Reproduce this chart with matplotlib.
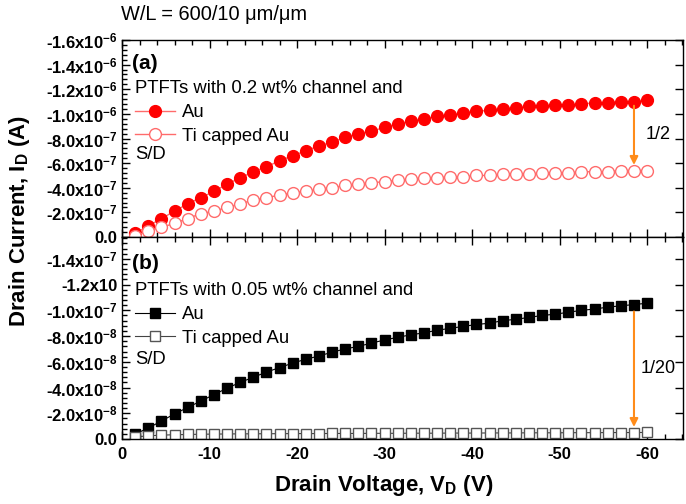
import numpy as np
import matplotlib
matplotlib.use("Agg")
import matplotlib.pyplot as plt
from matplotlib.ticker import AutoMinorLocator

plt.rcParams['font.family'] = ['Liberation Sans', 'DejaVu Sans']
plt.rcParams['mathtext.fontset'] = 'custom'
plt.rcParams['mathtext.rm'] = 'Liberation Sans'
plt.rcParams['mathtext.it'] = 'Liberation Sans:italic'
plt.rcParams['mathtext.bf'] = 'Liberation Sans:bold'

# drain voltage (V), 1.5 V steps
vd = [-1.5 * (i + 1) for i in range(40)]

# panel (a): 0.2 wt% channel, drain current in units of 1e-6 A
a_au = [0.03, 0.09, 0.15, 0.21, 0.27, 0.32, 0.37, 0.43, 0.48, 0.53,
        0.57, 0.62, 0.66, 0.70, 0.74, 0.77, 0.81, 0.84, 0.86, 0.89,
        0.92, 0.94, 0.96, 0.98, 0.99, 1.01, 1.02, 1.03, 1.04, 1.05,
        1.06, 1.06, 1.07, 1.07, 1.08, 1.09, 1.09, 1.10, 1.10, 1.11]
a_ti = [0.01, 0.05, 0.08, 0.11, 0.15, 0.19, 0.21, 0.24, 0.27, 0.30,
        0.32, 0.34, 0.36, 0.37, 0.39, 0.40, 0.42, 0.43, 0.44, 0.45,
        0.46, 0.47, 0.48, 0.48, 0.49, 0.49, 0.50, 0.50, 0.51, 0.51,
        0.51, 0.52, 0.52, 0.52, 0.53, 0.53, 0.53, 0.54, 0.54, 0.54]

# panel (b): 0.05 wt% channel, drain current in units of 1e-8 A
b_au = [0.39, 0.85, 1.40, 1.95, 2.45, 2.95, 3.45, 3.95, 4.40, 4.80,
        5.20, 5.55, 5.90, 6.20, 6.45, 6.75, 7.00, 7.20, 7.45, 7.70,
        7.90, 8.10, 8.25, 8.45, 8.60, 8.75, 8.90, 9.00, 9.20, 9.30,
        9.45, 9.60, 9.70, 9.85, 10.00, 10.10, 10.25, 10.35, 10.45, 10.55]
b_ti = [0.15, 0.25, 0.30, 0.33, 0.35, 0.37, 0.38, 0.39, 0.40, 0.40,
        0.41, 0.41, 0.42, 0.42, 0.42, 0.43, 0.43, 0.43, 0.44, 0.44,
        0.44, 0.45, 0.45, 0.45, 0.46, 0.46, 0.46, 0.47, 0.47, 0.47,
        0.48, 0.48, 0.48, 0.49, 0.49, 0.49, 0.50, 0.50, 0.50, 0.51]

a_ticks = [0, -0.2e-6, -0.4e-6, -0.6e-6, -0.8e-6, -1.0e-6, -1.2e-6, -1.4e-6, -1.6e-6]
a_labels = ["0.0", "-2.0x10$^{\\mathbf{-7}}$", "-4.0x10$^{\\mathbf{-7}}$", "-6.0x10$^{\\mathbf{-7}}$",
            "-8.0x10$^{\\mathbf{-7}}$", "-1.0x10$^{\\mathbf{-6}}$", "-1.2x10$^{\\mathbf{-6}}$",
            "-1.4x10$^{\\mathbf{-6}}$", "-1.6x10$^{\\mathbf{-6}}$"]
b_ticks = [0, -2e-8, -4e-8, -6e-8, -8e-8, -1.0e-7, -1.2e-7, -1.4e-7]
b_labels = ["0.0", "-2.0x10$^{\\mathbf{-8}}$", "-4.0x10$^{\\mathbf{-8}}$", "-6.0x10$^{\\mathbf{-8}}$",
            "-8.0x10$^{\\mathbf{-8}}$", "-1.0x10$^{\\mathbf{-7}}$", "-1.2x10",
            "-1.4x10$^{\\mathbf{-7}}$"]
x_ticks = [0, -10, -20, -30, -40, -50, -60]
x_labels = ["0", "-10", "-20", "-30", "-40", "-50", "-60"]

orange = "#ff8c1a"
red = "#ff0000"
pink = "#ff6b6b"

vd = np.array(vd)
a_au_A = -np.array(a_au) * 1e-6
a_ti_A = -np.array(a_ti) * 1e-6
b_au_A = -np.array(b_au) * 1e-8
b_ti_A = -np.array(b_ti) * 1e-8

fig = plt.figure(figsize=(6.86, 5.04), dpi=100)
gs = fig.add_gridspec(2, 1, left=0.178, right=0.9956, top=0.9206, bottom=0.129,
                      hspace=0, height_ratios=[197, 202])
ax_a = fig.add_subplot(gs[0])
ax_b = fig.add_subplot(gs[1], sharex=ax_a)

# panel (a)
ax_a.plot(vd, a_au_A, color=pink, lw=1.0, marker='o', ms=8.5,
          mfc=red, mec=red, label="Au")
ax_a.plot(vd, a_ti_A, color=pink, lw=1.0, marker='o', ms=8.5,
          mfc='white', mec=pink, mew=1.0, label="Ti capped Au")

# panel (b)
ax_b.plot(vd, b_au_A, color='black', lw=0.8, marker='s', ms=7.2,
          mfc='black', mec='black', label="Au")
ax_b.plot(vd, b_ti_A, color='#444444', lw=0.8, marker='s', ms=7.2,
          mfc='white', mec='#555555', mew=1.0, label="Ti capped Au")

ax_a.set_ylim(0, -1.6e-6)
ax_b.set_ylim(0, -1.57e-7)
ax_a.set_xlim(0, -64.1)

ax_a.set_yticks(a_ticks, labels=a_labels)
ax_b.set_yticks(b_ticks, labels=b_labels)
ax_b.set_xticks(x_ticks, labels=x_labels)

for ax in (ax_a, ax_b):
    ax.xaxis.set_minor_locator(AutoMinorLocator(5))
    ax.yaxis.set_minor_locator(AutoMinorLocator(5))
    ax.tick_params(which='both', direction='in', top=True, right=True,
                   labelsize=12, width=1.0)
    ax.tick_params(which='major', length=6)
    ax.tick_params(which='minor', length=3.5, right=False)
    for lab in ax.get_yticklabels() + ax.get_xticklabels():
        lab.set_fontweight('bold')
    for sp in ax.spines.values():
        sp.set_linewidth(1.0)
ax_a.tick_params(labelbottom=False)
ax_b.tick_params(axis='x', pad=6)

# legends
for ax, title, y0 in ((ax_a, "PTFTs with 0.2 wt% channel and", 0.795),
                      (ax_b, "PTFTs with 0.05 wt% channel and", 0.775)):
    ax.legend(loc='upper left', bbox_to_anchor=(0.023, y0), frameon=False,
              title=title, alignment='left', fontsize=13.3,
              title_fontsize=13.3, handlelength=2.15, handletextpad=0.38,
              labelspacing=0.36, borderaxespad=0, borderpad=0)

ax_a.text(0.023, 0.421, "S/D", transform=ax_a.transAxes, fontsize=13.3, va='center')
ax_b.text(0.023, 0.392, "S/D", transform=ax_b.transAxes, fontsize=13.3, va='center')
ax_a.text(0.018, 0.883, "(a)", transform=ax_a.transAxes, fontsize=15,
          fontweight='bold', va='center')
ax_b.text(0.018, 0.871, "(b)", transform=ax_b.transAxes, fontsize=15,
          fontweight='bold', va='center')

# ratio arrows
k = 38
ax_a.annotate("", xy=(vd[k], a_ti_A[k]), xytext=(vd[k], a_au_A[k]),
              arrowprops=dict(arrowstyle='-|>', color=orange, lw=1.5,
                              shrinkA=3, shrinkB=4, mutation_scale=12))
ax_b.annotate("", xy=(vd[k], b_ti_A[k]), xytext=(vd[k], b_au_A[k]),
              arrowprops=dict(arrowstyle='-|>', color=orange, lw=1.5,
                              shrinkA=5, shrinkB=4, mutation_scale=12))
ax_a.text(-61.3, -0.83e-6, "1/2", fontsize=13, ha='center', va='center')
ax_b.text(-61.3, -5.5e-8, "1/20", fontsize=13, ha='center', va='center')

fig.text(121 / 686, 1 - 14 / 504, "W/L = 600/10 \u03bcm/\u03bcm", fontsize=14.4,
         va='center', ha='left')
fig.text(20 / 686, 1 - 221 / 504, "Drain Current, I$_\\mathbf{D}$ (A)", fontsize=16,
         fontweight='bold', rotation=90, ha='center', va='center')
fig.text(384 / 686, 1 - 486 / 504, "Drain Voltage, V$_\\mathbf{D}$ (V)", fontsize=16,
         fontweight='bold', ha='center', va='center')

fig.savefig("out.png", dpi=100)
